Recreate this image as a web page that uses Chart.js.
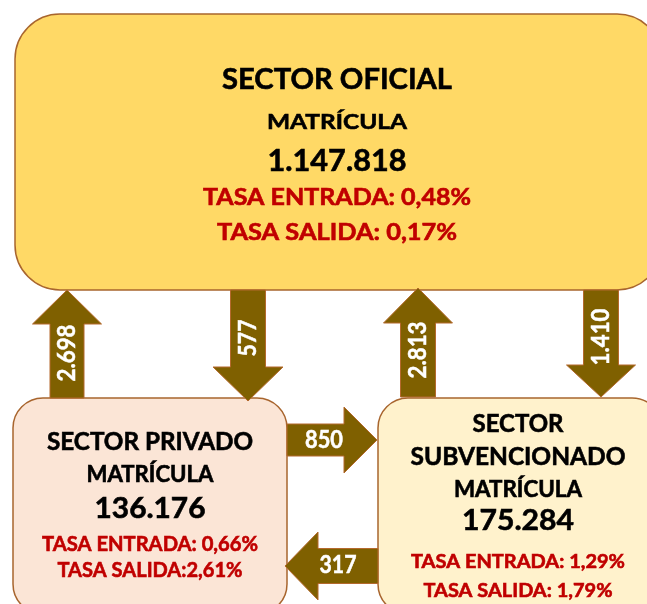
<!DOCTYPE html>
<html>
<head>
<meta charset="utf-8">
<script src="https://cdn.jsdelivr.net/npm/chart.js@4"></script>
<style>
  html, body { margin: 0; padding: 0; background: #fff; }
  #wrap { width: 647px; height: 604px; }
</style>
</head>
<body>
<div id="wrap"><canvas id="c" width="647" height="604"></canvas></div>
<script>
// datos
const sectores = [['SECTOR OFICIAL'], ['SECTOR PRIVADO'], ['SECTOR', 'SUBVENCIONADO']];
const matricula = [1147818, 136176, 175284];
const tasaEntrada = [0.48, 0.66, 1.29];
const tasaSalida = [0.17, 2.61, 1.79];
// flujos entre sectores (indice de origen -> destino)
const flujoOrigen = [1, 0, 2, 0, 1, 2];
const flujoDestino = [0, 1, 0, 2, 2, 1];
const flujoValor = [2698, 577, 2813, 1410, 850, 317];

// disposicion (en unidades de los ejes)
const cajas = [
  { x0: 15, y0: 14, x1: 662, y1: 290, r: 45, fill: '#FFD966', cx: 337, sep: ': ',
    titulo: [{ b: 89, s: 29, w: 230 }], mat: { b: 129, s: 21.5, w: 140 }, num: { b: 171, s: 31, w: 139 },
    ent: { b: 205, s: 22.5, w: 268 }, sal: { b: 240, s: 22.5, w: 240 } },
  { x0: 13, y0: 398, x1: 287, y1: 614, r: 30, fill: '#FBE5D6', cx: 150, sep: ':',
    titulo: [{ b: 450, s: 25, w: 206 }], mat: { b: 482, s: 22, w: 127 }, num: { b: 518, s: 29, w: 111 },
    ent: { b: 551, s: 20.5, w: 216 }, sal: { b: 577, s: 20.5, w: 185 } },
  { x0: 378, y0: 398, x1: 662, y1: 614, r: 30, fill: '#FFF2CC', cx: 518, sep: ': ',
    titulo: [{ b: 432, s: 25, w: 91 }, { b: 465, s: 25, w: 215 }], mat: { b: 497, s: 22, w: 128 },
    num: { b: 530, s: 29, w: 112 }, ent: { b: 568, s: 19.5, w: 214 }, sal: { b: 597, s: 19.5, w: 189 } }
];
const flechas = [
  { tx: 67, ty: 398, px: 67, py: 290, sw: 17, hw: 34.5, hl: 34, lx: 67, ly: 353, lw: 57 },
  { tx: 248, ty: 290, px: 248, py: 401, sw: 17.5, hw: 35, hl: 34, lx: 248, ly: 338, lw: 37 },
  { tx: 418, ty: 397, px: 418, py: 288, sw: 17.5, hw: 34.5, hl: 35, lx: 418, ly: 350, lw: 57 },
  { tx: 601, ty: 290, px: 601, py: 397, sw: 17.5, hw: 34.5, hl: 32, lx: 601, ly: 337, lw: 57 },
  { tx: 287, ty: 440, px: 377, py: 440, sw: 16, hw: 33, hl: 33, lx: 324, ly: 440, lw: 38 },
  { tx: 378, ty: 566, px: 285, py: 566, sw: 17.5, hw: 34, hl: 33, lx: 338, ly: 565, lw: 37 }
];

function puntos(n) {
  return String(n).replace(/\B(?=(\d{3})+(?!\d))/g, '.');
}
function pct(v) {
  return v.toFixed(2).replace('.', ',') + '%';
}

function texto(ctx, t, x, y, size, width, color) {
  ctx.save();
  ctx.font = 'bold ' + size + 'px Lato';
  const m = ctx.measureText(t).width;
  ctx.translate(x, y);
  ctx.scale(width / m, 1);
  ctx.fillStyle = color;
  ctx.strokeStyle = color;
  ctx.lineWidth = 0.6;
  ctx.textAlign = 'center';
  ctx.textBaseline = 'alphabetic';
  ctx.fillText(t, 0, 0);
  ctx.strokeText(t, 0, 0);
  ctx.restore();
}

const diagrama = {
  id: 'diagrama',
  afterDraw(chart) {
    const ctx = chart.ctx;
    const X = v => chart.scales.x.getPixelForValue(v);
    const Y = v => chart.scales.y.getPixelForValue(v);

    cajas.forEach((c, i) => {
      ctx.save();
      ctx.beginPath();
      ctx.roundRect(X(c.x0), Y(c.y0), X(c.x1) - X(c.x0), Y(c.y1) - Y(c.y0), c.r);
      ctx.fillStyle = c.fill;
      ctx.fill();
      ctx.lineWidth = 1.5;
      ctx.strokeStyle = '#A8652E';
      ctx.stroke();
      ctx.restore();

      sectores[i].forEach((t, k) => {
        const l = c.titulo[k];
        texto(ctx, t, X(c.cx), Y(l.b), l.s, l.w, '#000');
      });
      texto(ctx, 'MATRÍCULA', X(c.cx), Y(c.mat.b), c.mat.s, c.mat.w, '#000');
      texto(ctx, puntos(matricula[i]), X(c.cx), Y(c.num.b), c.num.s, c.num.w, '#000');
      texto(ctx, 'TASA ENTRADA: ' + pct(tasaEntrada[i]), X(c.cx), Y(c.ent.b), c.ent.s, c.ent.w, '#C00000');
      texto(ctx, 'TASA SALIDA' + c.sep + pct(tasaSalida[i]), X(c.cx), Y(c.sal.b), c.sal.s, c.sal.w, '#C00000');
    });

    flechas.forEach((f, i) => {
      const ax = X(f.tx), ay = Y(f.ty), bx = X(f.px), by = Y(f.py);
      const len = Math.hypot(bx - ax, by - ay);
      const ang = Math.atan2(by - ay, bx - ax);
      ctx.save();
      ctx.translate(ax, ay);
      ctx.rotate(ang);
      ctx.beginPath();
      ctx.moveTo(0, -f.sw);
      ctx.lineTo(len - f.hl, -f.sw);
      ctx.lineTo(len - f.hl, -f.hw);
      ctx.lineTo(len, 0);
      ctx.lineTo(len - f.hl, f.hw);
      ctx.lineTo(len - f.hl, f.sw);
      ctx.lineTo(0, f.sw);
      ctx.closePath();
      ctx.fillStyle = '#7F6000';
      ctx.fill();
      ctx.lineWidth = 1;
      ctx.strokeStyle = '#B4692D';
      ctx.stroke();
      ctx.restore();

      const vertical = Math.abs(by - ay) > Math.abs(bx - ax);
      ctx.save();
      ctx.translate(X(f.lx), Y(f.ly));
      if (vertical) ctx.rotate(-Math.PI / 2);
      ctx.font = 'bold 24px Lato';
      const t = puntos(flujoValor[i]);
      const m = ctx.measureText(t).width;
      ctx.scale(f.lw / m, 1);
      ctx.fillStyle = '#fff';
      ctx.strokeStyle = '#fff';
      ctx.lineWidth = 0.5;
      ctx.textAlign = 'center';
      ctx.textBaseline = 'middle';
      ctx.fillText(t, 0, 0);
      ctx.strokeText(t, 0, 0);
      ctx.restore();
    });
  }
};

new Chart(document.getElementById('c').getContext('2d'), {
  type: 'scatter',
  data: {
    labels: sectores.map(s => s.join(' ')),
    datasets: [{ data: [], label: 'flujos' }]
  },
  options: {
    responsive: false,
    animation: false,
    layout: { padding: 0 },
    plugins: { legend: { display: false }, tooltip: { enabled: false } },
    scales: {
      x: { type: 'linear', min: 0, max: 647, display: false },
      y: { type: 'linear', min: 0, max: 604, reverse: true, display: false }
    }
  },
  plugins: [diagrama]
});
</script>
</body>
</html>
